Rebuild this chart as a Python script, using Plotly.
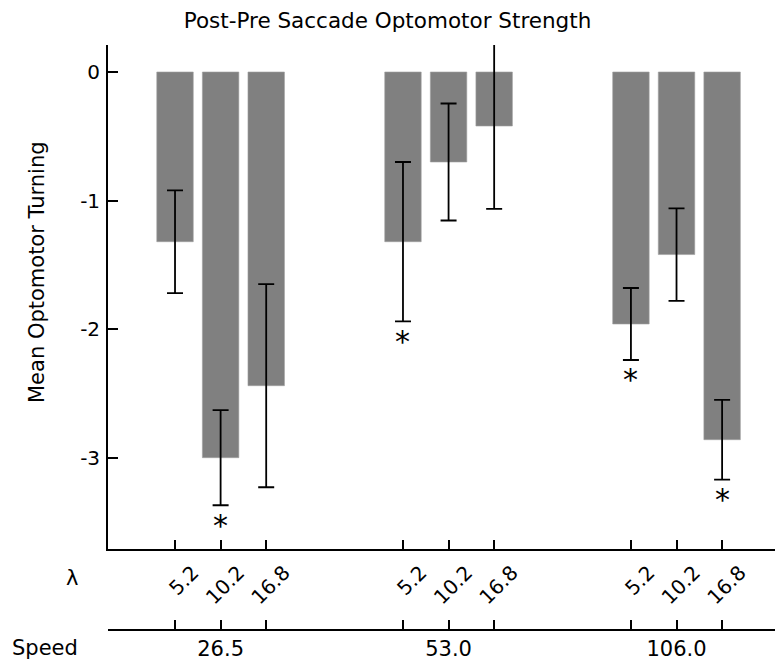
import plotly.graph_objects as go

# ---- data ----
speeds = ["26.5", "53.0", "106.0"]
wavelengths = ["5.2", "10.2", "16.8"]
bar_positions = [0, 1, 2, 5, 6, 7, 10, 11, 12]
bar_lambda_labels = ["5.2", "10.2", "16.8"] * 3
speed_tick_labels = ["", "26.5", "", "", "53.0", "", "", "106.0", ""]
means = [-1.32, -3.00, -2.44, -1.32, -0.70, -0.42, -1.96, -1.42, -2.86]
errors = [0.40, 0.37, 0.79, 0.62, 0.455, 0.645, 0.28, 0.36, 0.31]
significant = [False, True, False, True, False, False, True, False, True]
y_tick_vals = [-3, -2, -1, 0]
y_tick_text = ["-3", "-2", "-1", "0"]

X_RANGE = [-1.47, 13.16]
Y_RANGE = [-3.71, 0.21]
FONT = "DejaVu Sans"

fig = go.Figure()
fig.add_trace(go.Bar(
    x=bar_positions, y=means, width=0.8, cliponaxis=False,
    marker=dict(color="#808080", line=dict(color="#a0a0a0", width=0.6)),
    error_y=dict(type="data", array=errors, visible=True,
                 color="black", thickness=1.8, width=8),
    showlegend=False, hoverinfo="skip",
))

annotations = []
for pos, m, e, s in zip(bar_positions, means, errors, significant):
    if s:
        annotations.append(dict(
            x=pos, y=m - e, xref="x", yref="y", text="*", showarrow=False,
            font=dict(family=FONT, size=30, color="black"),
            yanchor="middle", yshift=-20,
        ))

annotations.append(dict(x=-0.054, y=0.089, xref="paper", yref="paper", text="λ",
                        showarrow=False, font=dict(family=FONT, size=21, color="black"),
                        xanchor="center", yanchor="middle"))
annotations.append(dict(x=-0.094, y=-0.031, xref="paper", yref="paper", text="Speed",
                        showarrow=False, font=dict(family=FONT, size=21, color="black"),
                        xanchor="center", yanchor="middle"))
annotations.append(dict(x=-0.1064, y=0.612, xref="paper", yref="paper",
                        text="Mean Optomotor Turning", textangle=-90,
                        showarrow=False, font=dict(family=FONT, size=21, color="black"),
                        xanchor="center", yanchor="middle"))

fig.update_layout(
    width=775, height=663,
    margin=dict(l=108, r=0, t=45, b=33),
    paper_bgcolor="white", plot_bgcolor="white",
    font=dict(family=FONT, size=20, color="black"),
    title=dict(text="Post-Pre Saccade Optomotor Strength", x=0.5, xref="container",
               xanchor="center",
               y=0.969, yref="container", yanchor="middle",
               font=dict(family=FONT, size=21.5, color="black")),
    annotations=annotations,
    xaxis=dict(
        range=X_RANGE, anchor="y",
        tickmode="array", tickvals=bar_positions, ticktext=bar_lambda_labels,
        tickangle=-45, ticks="inside", ticklen=9, tickwidth=1.5, tickcolor="black",
        showline=True, linecolor="black", linewidth=1.8,
        showgrid=False, zeroline=False,
        tickfont=dict(family=FONT, size=20, color="black"),
        ticklabelshift=18, ticklabelstandoff=2,
    ),
    xaxis2=dict(
        range=X_RANGE, overlaying="x", anchor="free", position=0, side="bottom",
        tickmode="array", tickvals=bar_positions, ticktext=speed_tick_labels,
        ticks="inside", ticklen=9, tickwidth=1.5, tickcolor="black",
        showline=True, linecolor="black", linewidth=1.8,
        showgrid=False, zeroline=False,
        tickfont=dict(family=FONT, size=21, color="black"),
    ),
    yaxis=dict(
        range=Y_RANGE, domain=[0.1385, 1],
        tickmode="array", tickvals=y_tick_vals, ticktext=y_tick_text,
        ticks="inside", ticklen=10, tickwidth=1.5, tickcolor="black",
        showline=True, linecolor="black", linewidth=1.8,
        showgrid=False, zeroline=False,
        tickfont=dict(family=FONT, size=20, color="black"),
        ticklabelstandoff=2,
    ),
)
# invisible trace on xaxis2 so the axis is rendered
fig.add_trace(go.Scatter(x=[bar_positions[0]], y=[means[0]], xaxis="x2", yaxis="y",
                         mode="markers", marker=dict(opacity=0), showlegend=False,
                         hoverinfo="skip"))
fig.write_html("out.html")
